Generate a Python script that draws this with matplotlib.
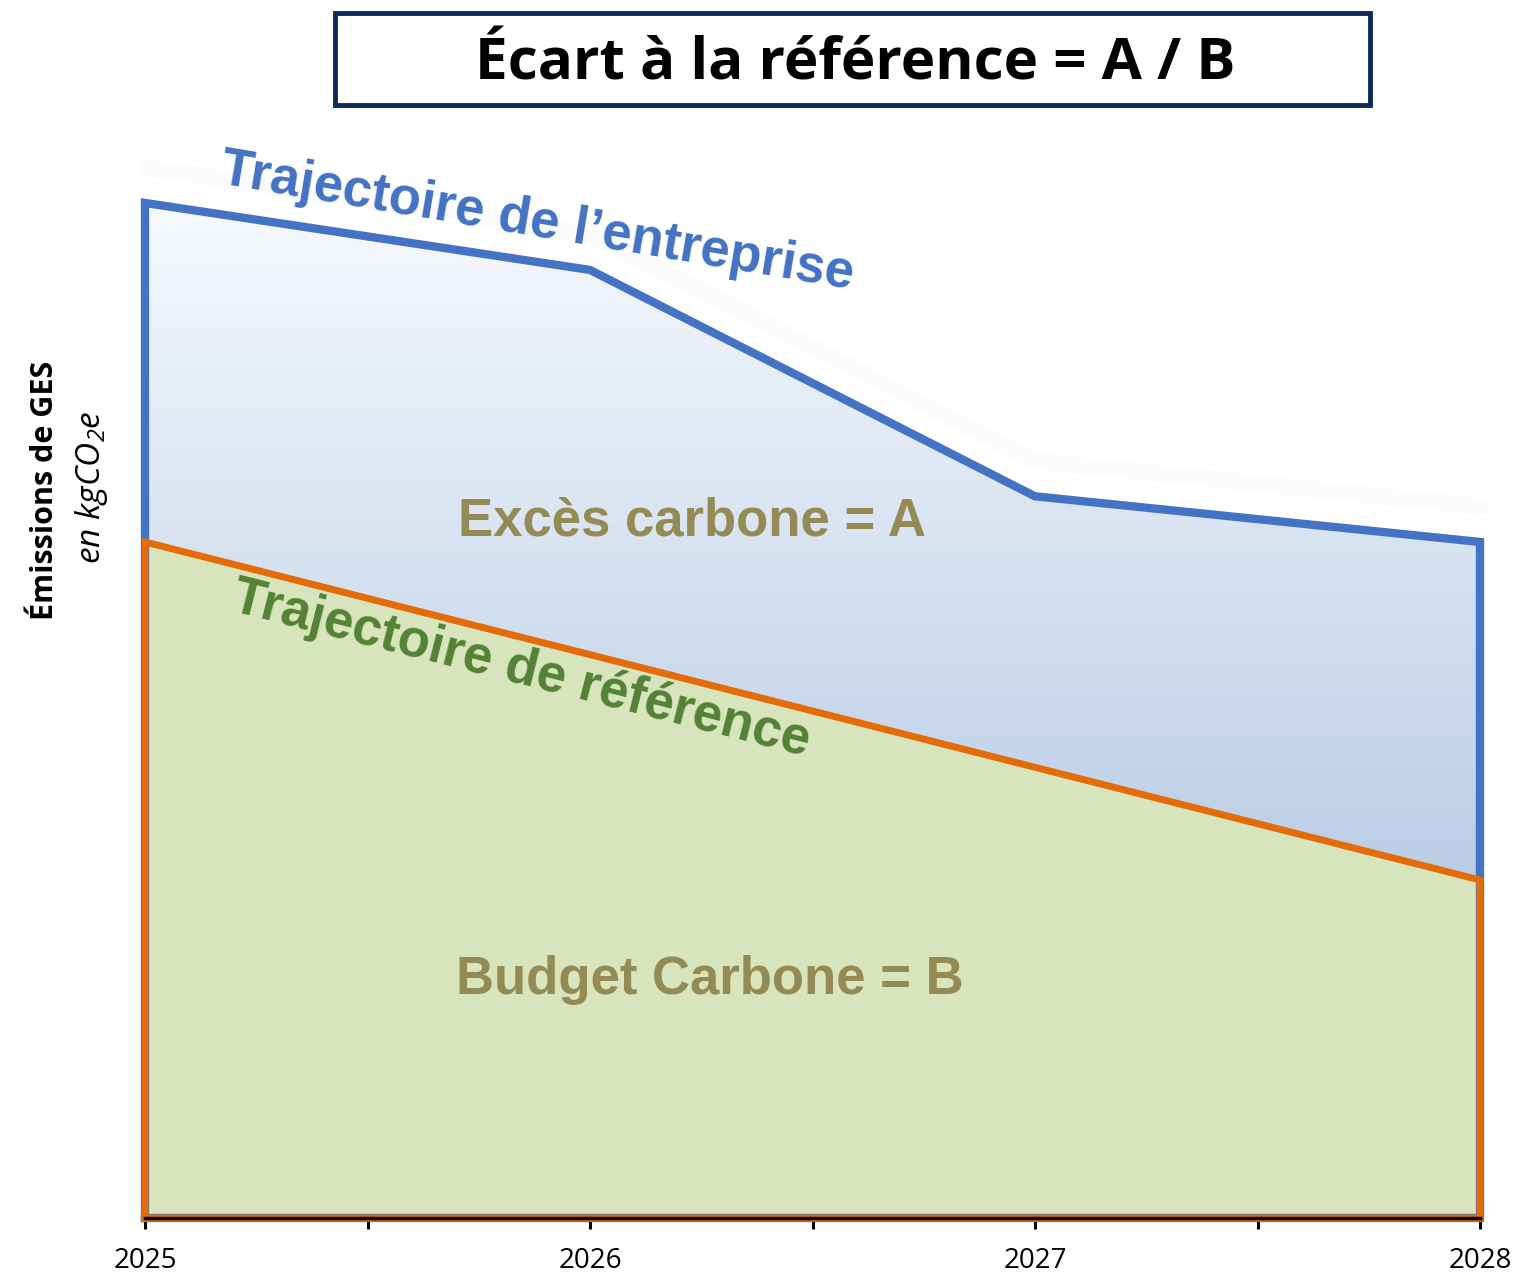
import matplotlib
matplotlib.use("Agg")
import matplotlib.pyplot as plt
import numpy as np
from matplotlib.colors import LinearSegmentedColormap
from matplotlib.patches import FancyBboxPatch

# ---- data ----
years = [2025, 2026, 2027, 2028]
entreprise = [100.0, 93.4, 71.1, 66.6]
reference = [66.6, 55.5, 44.4, 33.3]
year_labels = ["2025", "2026", "2027", "2028"]

title = "Écart à la référence = A / B"
ylabel_main = "Émissions de GES"
ylabel_unit = r"en kgCO$_{\mathrm{2}}$e"

BLUE = "#4472c4"
ORANGE = "#e36c09"
GREEN_FILL = "#d8e4bc"
OLIVE = "#948a54"
GREEN_TXT = "#538135"

plt.rcParams["mathtext.fontset"] = "custom"
plt.rcParams["mathtext.rm"] = "Open Sans:italic"
plt.rcParams["mathtext.it"] = "Open Sans:italic"

fig = plt.figure(figsize=(15.22, 12.83), dpi=100)
ax = fig.add_axes([145/1522, (1283-1218)/1283, (1480-145)/1522, (1218-140)/1283])
ax.set_xlim(2025, 2028)
ax.set_ylim(0, 106.2)

# shadow (very faint)
ax.plot(years, [v + 3.5 for v in entreprise], color="#fbfbfb", lw=12, zorder=1,
        solid_joinstyle="round", solid_capstyle="round", clip_on=False)

# gradient blue area
poly = ax.fill_between(years, 0, entreprise, color="none", lw=0, zorder=2)
cmap = LinearSegmentedColormap.from_list("g", ["#bacde6", "#f7f9fd"])
grad = np.linspace(0, 1, 256).reshape(-1, 1)
im = ax.imshow(grad, extent=[2025, 2028, 33.3, 100], origin="lower", aspect="auto",
               cmap=cmap, zorder=2, interpolation="bicubic")
path = poly.get_paths()[0]
im.set_clip_path(path, transform=ax.transData)
ax.fill_between(years, 0, [min(33.3, v) for v in entreprise], color="#bacde6", lw=0, zorder=2)

# green area
ax.fill_between(years, 0, reference, color=GREEN_FILL, lw=0, zorder=3)

# lines (closed outlines)
ax.plot([years[0]] + years + [years[-1], years[0]], [0] + entreprise + [0, 0], color=BLUE, lw=6,
        zorder=4, solid_joinstyle="miter", clip_on=False)
ax.plot([years[0]] + years + [years[-1], years[0]], [0] + reference + [0, 0], color=ORANGE, lw=5,
        zorder=5, solid_joinstyle="miter", clip_on=False)

# axes styling
for s in ["top", "right", "left"]:
    ax.spines[s].set_visible(False)
ax.spines["bottom"].set_linewidth(2.5)
ax.spines["bottom"].set_zorder(6)
ax.set_yticks([])
ax.set_xticks(years)
ax.set_xticklabels(year_labels, fontsize=20, family="Open Sans")
ax.set_xticks([2025.5, 2026.5, 2027.5], minor=True)
ax.tick_params(axis="x", which="both", direction="out", length=8, width=2.2, pad=13)

# texts
ax.text(2026.23, 68.6, "Excès carbone = A", fontsize=38, fontweight="bold", color=OLIVE,
        family="Liberation Sans", ha="center", va="center", zorder=7)
ax.text(2026.27, 23.4, "Budget Carbone = B", fontsize=38, fontweight="bold", color=OLIVE,
        family="Liberation Sans", ha="center", va="center", zorder=7)

fig.text(537/1522, 1 - 222/1283, "Trajectoire de l’entreprise", fontsize=38, fontweight="bold",
         color=BLUE, family="Liberation Sans", ha="center", va="center", rotation=-9.5,
         rotation_mode="anchor", zorder=7)
fig.text(521/1522, 1 - 670/1283, "Trajectoire de référence", fontsize=38, fontweight="bold",
         color=GREEN_TXT, family="Liberation Sans", ha="center", va="center", rotation=-14.2,
         rotation_mode="anchor", zorder=7)

# y labels
fig.text(45/1522, 1 - 490/1283, ylabel_main, fontsize=22, fontweight="bold", rotation=90,
         family="Open Sans", ha="center", va="center")
fig.text(92/1522, 1 - 487/1283, ylabel_unit, fontsize=24, style="italic", rotation=90,
         family="Open Sans", ha="center", va="center")

# title box
box = FancyBboxPatch((335/1522, 1 - 105/1283), (1370-335)/1522, (105-13)/1283,
                     boxstyle="square,pad=0", transform=fig.transFigure,
                     facecolor="white", edgecolor="#0f2a5a", lw=3.5)
fig.patches.append(box)
fig.text(855/1522, 1 - 64/1283, title, fontsize=42, fontweight="bold",
         family="Open Sans", ha="center", va="center")

fig.savefig("out.png", dpi=100)
